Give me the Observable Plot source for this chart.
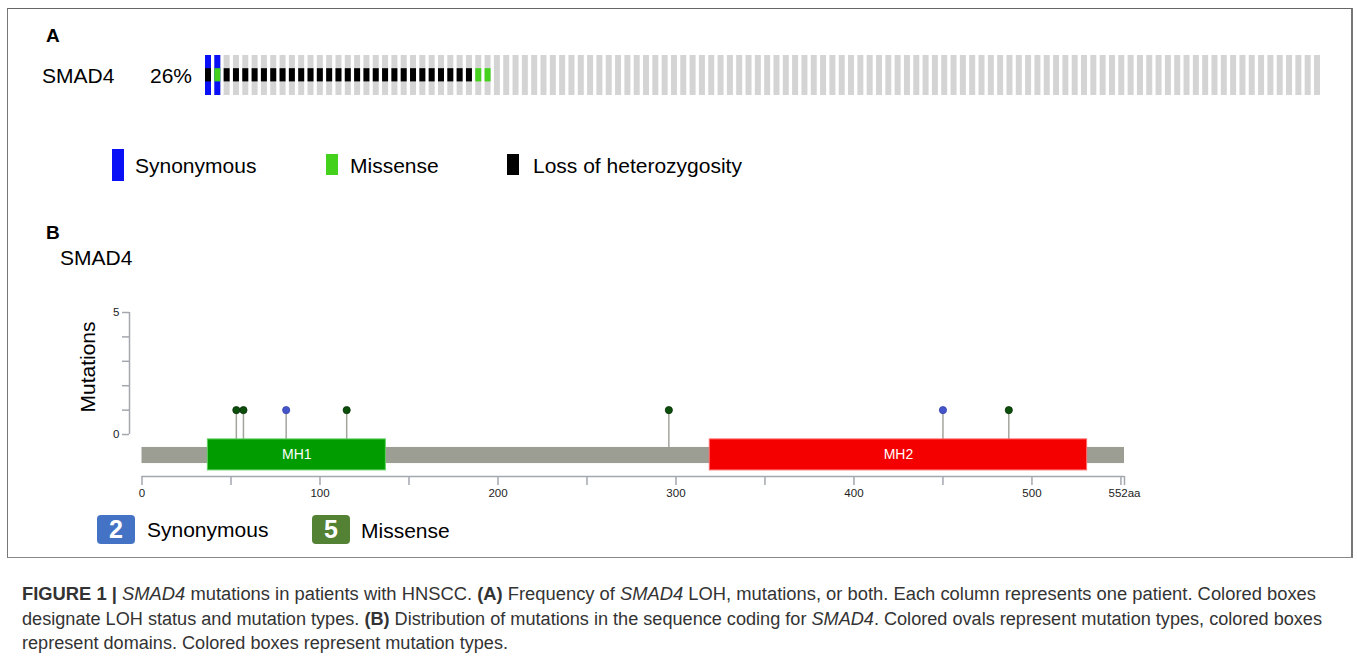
<!DOCTYPE html>
<html>
<head>
<meta charset="utf-8">
<script src="https://cdn.jsdelivr.net/npm/d3@7"></script>
<script src="https://cdn.jsdelivr.net/npm/@observablehq/plot@0.6"></script>
<style>
  html, body { margin: 0; padding: 0; background: #fff; }
  body { width: 1357px; height: 662px; position: relative; overflow: hidden; font-family: "Liberation Sans", Arial, sans-serif; }
  .abs { position: absolute; white-space: nowrap; }
  #frame { position: absolute; left: 7px; top: 8px; width: 1346px; height: 550px; border-top: 1px solid #666; border-left: 1px solid #777; border-right: 2px solid #777; border-bottom: 1px solid #888; box-sizing: border-box; }
  .lbl { font-size: 21px; line-height: 21px; color: #000; }
  .panel { font-size: 19px; line-height: 19px; font-weight: bold; }
  .sw { position: absolute; }
  .badge { position: absolute; width: 38px; height: 29px; border-radius: 4px; color: #fff; font-weight: bold; font-size: 25px; line-height: 29px; text-align: center; }
  .capline { position: absolute; left: 22px; color: #333; font-family: "Liberation Sans", Arial, sans-serif; font-size: 18px; line-height: 20px; white-space: nowrap; transform-origin: 0 50%; }
</style>
</head>
<body>
<div id="frame"></div>
<div class="abs panel" style="left:46px; top:26px;">A</div>
<div class="abs lbl" style="left:42px; top:65px;">SMAD4</div>
<div class="abs lbl" style="left:150px; top:65px;">26%</div>
<div id="panelA" class="abs" style="left:0; top:0;"></div>

<div class="sw" style="left:112px; top:149px; width:12px; height:32px; background:#0a10f5;"></div>
<div class="abs lbl" style="left:135px; top:155px;">Synonymous</div>
<div class="sw" style="left:326px; top:154px; width:12px; height:21px; background:#43d11c;"></div>
<div class="abs lbl" style="left:350px; top:155px;">Missense</div>
<div class="sw" style="left:507px; top:154px; width:12px; height:21px; background:#000;"></div>
<div class="abs lbl" style="left:533px; top:155px;">Loss of heterozygosity</div>

<div class="abs panel" style="left:46px; top:223px;">B</div>
<div class="abs lbl" style="left:60px; top:247px;">SMAD4</div>
<div id="panelB" class="abs" style="left:0; top:290px;"></div>

<div class="badge" style="left:97px; top:515px; background:#4472c4;">2</div>
<div class="abs lbl" style="left:147px; top:519px;">Synonymous</div>
<div class="badge" style="left:312px; top:515px; background:#548235;">5</div>
<div class="abs lbl" style="left:361px; top:520px;">Missense</div>

<div class="capline" id="cap1" data-w="1294" style="top:584px;"><b>FIGURE 1 |</b> <i>SMAD4</i> mutations in patients with HNSCC. <b>(A)</b> Frequency of <i>SMAD4</i> LOH, mutations, or both. Each column represents one patient. Colored boxes</div>
<div class="capline" id="cap2" data-w="1300" style="top:608.5px;">designate LOH status and mutation types. <b>(B)</b> Distribution of mutations in the sequence coding for <i>SMAD4</i>. Colored ovals represent mutation types, colored boxes</div>
<div class="capline" id="cap3" data-w="486" style="top:633px;">represent domains. Colored boxes represent mutation types.</div>

<script>
// ---------- Panel A data: 120 patients ----------
const patients = Array.from({length: 120}, (_, i) => i + 1);
const synonymousPatients = [1, 2];
const missensePatients = [2, 30, 31];
const lohPatients = [1, 3, 4, 5, 6, 7, 8, 9, 10, 11, 12, 13, 14, 15, 16, 17, 18, 19, 20, 21, 22, 23, 24, 25, 26, 27, 28, 29];

// ---------- Panel B data ----------
const proteinLength = 552;
const domainNames = ["MH1", "MH2"];
const domainStarts = [37, 319];
const domainEnds = [137, 531];
const mutationPositions = [53, 57, 81, 115, 296, 450, 487];
const mutationCounts = [1, 1, 1, 1, 1, 1, 1];
const mutationTypes = ["Missense", "Missense", "Synonymous", "Missense", "Missense", "Synonymous", "Missense"];
const xTickValues = [0, 50, 100, 150, 200, 250, 300, 350, 400, 450, 500, 550, 552];
const yTickValues = [0, 1, 2, 3, 4, 5];

const COL = {gray: "#d4d4d4", syn: "#0a10f5", mis: "#43d11c", loh: "#000000"};

// ---------- Panel A ----------
const full = [0, 1], mid = [0.34, 0.67];
const panelA = Plot.plot({
  width: 1357, height: 110,
  marginLeft: 205, marginRight: 37, marginTop: 55, marginBottom: 15,
  x: {type: "band", domain: patients, paddingInner: 0.356, paddingOuter: 0, axis: null},
  y: {domain: [0, 1], axis: null},
  marks: [
    Plot.barY(patients, {x: d => d, y1: full[0], y2: full[1], fill: COL.gray}),
    Plot.barY(synonymousPatients, {x: d => d, y1: full[0], y2: full[1], fill: COL.syn}),
    Plot.barY(lohPatients, {x: d => d, y1: mid[0], y2: mid[1], fill: COL.loh}),
    Plot.barY(missensePatients, {x: d => d, y1: mid[0], y2: mid[1], fill: COL.mis})
  ]
});
document.getElementById("panelA").appendChild(panelA);

// ---------- Panel B ----------
const domains = domainNames.map((n, i) => ({name: n, start: domainStarts[i], end: domainEnds[i]}));
const muts = mutationPositions.map((p, i) => ({pos: p, count: mutationCounts[i], type: mutationTypes[i]}));
const inDomain = p => domains.some(d => p >= d.start && p <= d.end);
const domainColor = {MH1: "#009c00", MH2: "#f50000"};
const domainStroke = {MH1: "#5fd15f", MH2: "#ff6a6a"};
const headFill = {Missense: "#0b4f0b", Synonymous: "#4455cc"};
const headStroke = {Missense: "#062e06", Synonymous: "#3440a8"};
const axisColor = "#a3a8ae";
const BAR = [-0.53, -1.19], DOM = [-0.2, -1.47], YMIN = -1.72;

const panelB = Plot.plot({
  width: 1357, height: 220,
  marginLeft: 141.5, marginRight: 233, marginTop: 22, marginBottom: 34,
  style: {fontFamily: "'Liberation Sans', Arial, sans-serif", fontSize: "11.5px", color: "#222"},
  x: {domain: [0, proteinLength]},
  y: {domain: [YMIN, 5]},
  marks: [
    Plot.ruleX([0], {y1: 0, y2: 5, dx: -12.5, stroke: axisColor, strokeWidth: 1.5}),
    Plot.axisY({ticks: yTickValues, tickSize: 7, dx: -12.5, stroke: axisColor, strokeWidth: 1.5,
      tickFormat: d => (d === 0 || d === 5) ? String(d) : "", label: null, fill: "#222"}),
    Plot.ruleY([YMIN], {x1: 0, x2: proteinLength, stroke: axisColor, strokeWidth: 1.5}),
    Plot.axisX({ticks: xTickValues, tickSize: 9, tickPadding: 3, stroke: axisColor, strokeWidth: 1.5, label: null, fill: "#222",
      tickFormat: d => d === proteinLength ? proteinLength + "aa" : (d % 100 === 0 ? String(d) : "")}),
    Plot.rect([proteinLength], {x1: 0, x2: d => d, y1: BAR[0], y2: BAR[1], fill: "#9c9e94"}),
    Plot.ruleX(muts, {x: "pos", y1: "count", y2: d => inDomain(d.pos) ? DOM[0] : BAR[0], stroke: "#a3a59c", strokeWidth: 1.5}),
    Plot.rect(domains, {x1: "start", x2: "end", y1: DOM[0], y2: DOM[1], fill: d => domainColor[d.name], stroke: d => domainStroke[d.name], strokeWidth: 1}),
    Plot.text(domains, {x: d => (d.start + d.end) / 2, y: (DOM[0] + DOM[1]) / 2, text: "name", fill: "#fff", fontSize: 14}),
    Plot.dot(muts, {x: "pos", y: "count", r: 3.6, fill: d => headFill[d.type], stroke: d => headStroke[d.type], strokeWidth: 0.8})
  ]
});
document.getElementById("panelB").appendChild(panelB);

// Mutations axis title (rotated)
const t = document.createElement("div");
t.className = "abs lbl";
t.textContent = "Mutations";
t.style.left = "87px"; t.style.top = "367px";
t.style.transform = "translate(-50%, -50%) rotate(-90deg)";
document.body.appendChild(t);

// condense each caption line horizontally to the reference line width (narrow face look)
document.querySelectorAll(".capline").forEach(el => {
  const w = el.getBoundingClientRect().width;
  const target = +el.dataset.w;
  el.style.transform = `scaleX(${(target / w).toFixed(4)})`;
});
</script>
</body>
</html>
